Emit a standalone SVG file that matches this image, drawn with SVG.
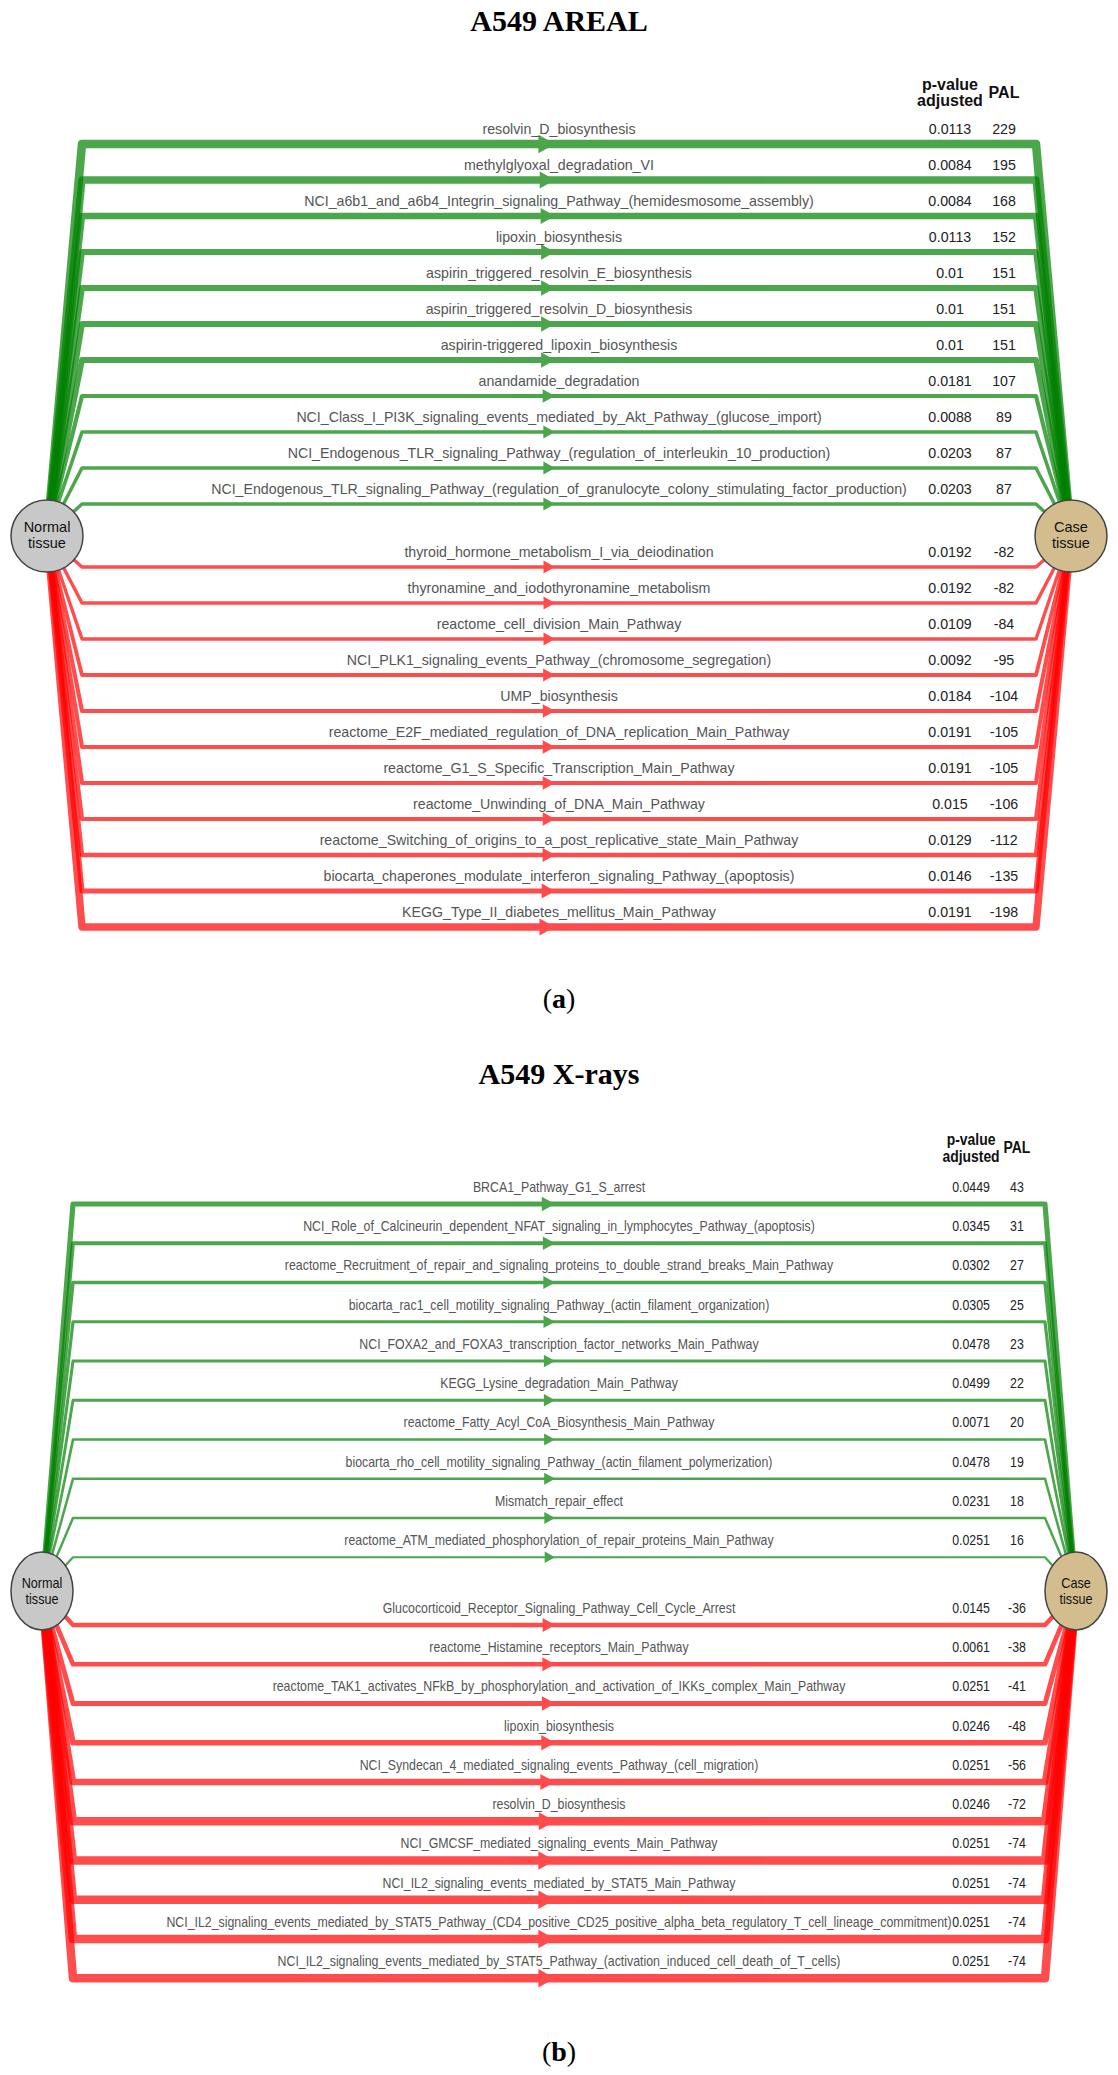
<svg xmlns="http://www.w3.org/2000/svg" width="1118" height="2075" viewBox="0 0 1118 2075">
<style>
.title{font-family:"Liberation Serif",serif;font-weight:bold;font-size:30px;text-anchor:middle;fill:#000}
.cap{font-family:"Liberation Serif",serif;font-size:28px;text-anchor:middle;fill:#000}
.lab{font-family:"Liberation Sans",Arial,sans-serif;font-size:14.2px;text-anchor:middle;fill:#555}
.val{font-family:"Liberation Sans",Arial,sans-serif;font-size:14.2px;text-anchor:middle;fill:#222}
.hdr{font-family:"Liberation Sans",Arial,sans-serif;font-size:16px;font-weight:bold;text-anchor:middle;fill:#111}
.ntx{font-family:"Liberation Sans",Arial,sans-serif;font-size:14.5px;text-anchor:middle;fill:#111}
.c{opacity:0.7}
.up path{stroke:#008000;fill:none;stroke-linejoin:round}
.up polygon{fill:#008000}
.dn path{stroke:#ff0000;fill:none;stroke-linejoin:round}
.dn polygon{fill:#ff0000}
.nrm{fill:#c8c8c8;stroke:#444;stroke-width:1.5}
.cse{fill:#d3bc8d;stroke:#444;stroke-width:1.5}
</style>

<text class="title" x="559" y="31">A549 AREAL</text>
<text class="title" x="559" y="1084">A549 X-rays</text>
<text class="cap" x="559" y="1008">(<tspan font-weight="bold">a</tspan>)</text>
<text class="cap" x="559" y="2061">(<tspan font-weight="bold">b</tspan>)</text>

<!-- Panel a connectors -->
<g id="connectors-a">
<g class="c up"><path d="M47 536L82 144H1036L1071 536" stroke-width="8.5"/><polygon points="538.4,134.8 555,144 538.4,153.2"/></g>
<g class="c up"><path d="M47 536L82 180H1036L1071 536" stroke-width="7.3"/><polygon points="539.7,171.5 555,180 539.7,188.5"/></g>
<g class="c up"><path d="M47 536L82 216H1036L1071 536" stroke-width="6.4"/><polygon points="540.6,208 555,216 540.6,224"/></g>
<g class="c up"><path d="M47 536L82 252H1036L1071 536" stroke-width="5.8"/><polygon points="541.1,244.3 555,252 541.1,259.7"/></g>
<g class="c up"><path d="M47 536L82 288H1036L1071 536" stroke-width="5.8"/><polygon points="541.1,280.3 555,288 541.1,295.7"/></g>
<g class="c up"><path d="M47 536L82 324H1036L1071 536" stroke-width="5.8"/><polygon points="541.1,316.3 555,324 541.1,331.7"/></g>
<g class="c up"><path d="M47 536L82 360H1036L1071 536" stroke-width="5.8"/><polygon points="541.1,352.3 555,360 541.1,367.7"/></g>
<g class="c up"><path d="M47 536L82 396H1036L1071 536" stroke-width="4.2"/><polygon points="542.7,389.2 555,396 542.7,402.8"/></g>
<g class="c up"><path d="M47 536L82 432H1036L1071 536" stroke-width="3.6"/><polygon points="543.3,425.5 555,432 543.3,438.5"/></g>
<g class="c up"><path d="M47 536L82 468H1036L1071 536" stroke-width="3.5"/><polygon points="543.4,461.5 555,468 543.4,474.5"/></g>
<g class="c up"><path d="M47 536L82 504H1036L1071 536" stroke-width="3.5"/><polygon points="543.4,497.5 555,504 543.4,510.5"/></g>

<g class="c dn"><path d="M47 536L82 567H1036L1071 536" stroke-width="3.4"/><polygon points="543.5,560.6 555,567 543.5,573.4"/></g>
<g class="c dn"><path d="M47 536L82 603H1036L1071 536" stroke-width="3.4"/><polygon points="543.5,596.6 555,603 543.5,609.4"/></g>
<g class="c dn"><path d="M47 536L82 639H1036L1071 536" stroke-width="3.4"/><polygon points="543.5,632.6 555,639 543.5,645.4"/></g>
<g class="c dn"><path d="M47 536L82 675H1036L1071 536" stroke-width="3.8"/><polygon points="543.1,668.4 555,675 543.1,681.6"/></g>
<g class="c dn"><path d="M47 536L82 711H1036L1071 536" stroke-width="4.1"/><polygon points="542.8,704.2 555,711 542.8,717.8"/></g>
<g class="c dn"><path d="M47 536L82 747H1036L1071 536" stroke-width="4.2"/><polygon points="542.7,740.2 555,747 542.7,753.8"/></g>
<g class="c dn"><path d="M47 536L82 783H1036L1071 536" stroke-width="4.2"/><polygon points="542.7,776.2 555,783 542.7,789.8"/></g>
<g class="c dn"><path d="M47 536L82 819H1036L1071 536" stroke-width="4.2"/><polygon points="542.7,812.2 555,819 542.7,825.8"/></g>
<g class="c dn"><path d="M47 536L82 855H1036L1071 536" stroke-width="4.4"/><polygon points="542.6,848.1 555,855 542.6,861.9"/></g>
<g class="c dn"><path d="M47 536L82 891H1036L1071 536" stroke-width="5.2"/><polygon points="541.7,883.6 555,891 541.7,898.4"/></g>
<g class="c dn"><path d="M47 536L82 927H1036L1071 536" stroke-width="7.4"/><polygon points="539.5,918.4 555,927 539.5,935.6"/></g>
</g>

<!-- Panel b connectors -->
<g id="connectors-b">
<g class="c up"><path d="M42 1591L73 1204H1045L1076 1591" stroke-width="5.15"/><polygon points="541.8,1196.7 555,1204 541.8,1211.3"/></g>
<g class="c up"><path d="M42 1591L73 1243.25H1045L1076 1591" stroke-width="3.85"/><polygon points="542.9,1236.5 555,1243.25 542.9,1250"/></g>
<g class="c up"><path d="M42 1591L73 1282.5H1045L1076 1591" stroke-width="3.4"/><polygon points="543.3,1276 555,1282.5 543.3,1289"/></g>
<g class="c up"><path d="M42 1591L73 1321.75H1045L1076 1591" stroke-width="3.2"/><polygon points="543.5,1315.4 555,1321.75 543.5,1328.1"/></g>
<g class="c up"><path d="M42 1591L73 1361H1045L1076 1591" stroke-width="3.0"/><polygon points="543.9,1354.8 555,1361 543.9,1367.2"/></g>
<g class="c up"><path d="M42 1591L73 1400.25H1045L1076 1591" stroke-width="2.9"/><polygon points="543.9,1394.1 555,1400.25 543.9,1406.4"/></g>
<g class="c up"><path d="M42 1591L73 1439.5H1045L1076 1591" stroke-width="2.7"/><polygon points="544.1,1433.5 555,1439.5 544.1,1445.5"/></g>
<g class="c up"><path d="M42 1591L73 1478.75H1045L1076 1591" stroke-width="2.55"/><polygon points="544.2,1472.8 555,1478.75 544.2,1484.7"/></g>
<g class="c up"><path d="M42 1591L73 1518H1045L1076 1591" stroke-width="2.45"/><polygon points="544.3,1512.1 555,1518 544.3,1523.9"/></g>
<g class="c up"><path d="M42 1591L73 1557.25H1045L1076 1591" stroke-width="2.2"/><polygon points="544.7,1551.5 555,1557.25 544.7,1563"/></g>

<g class="c dn"><path d="M42 1591L73 1625H1045L1076 1591" stroke-width="4.4"/><polygon points="542.6,1618.1 555,1625 542.6,1631.9"/></g>
<g class="c dn"><path d="M42 1591L73 1664.25H1045L1076 1591" stroke-width="4.6"/><polygon points="542.4,1657.3 555,1664.25 542.4,1671.2"/></g>
<g class="c dn"><path d="M42 1591L73 1703.5H1045L1076 1591" stroke-width="4.9"/><polygon points="542,1696.3 555,1703.5 542,1710.7"/></g>
<g class="c dn"><path d="M42 1591L73 1742.75H1045L1076 1591" stroke-width="5.7"/><polygon points="541.3,1735.1 555,1742.75 541.3,1750.4"/></g>
<g class="c dn"><path d="M42 1591L73 1782H1045L1076 1591" stroke-width="6.55"/><polygon points="540.4,1773.9 555,1782 540.4,1790.1"/></g>
<g class="c dn"><path d="M42 1591L73 1821.25H1045L1076 1591" stroke-width="8.3"/><polygon points="538.8,1812.2 555,1821.25 538.8,1830.3"/></g>
<g class="c dn"><path d="M42 1591L73 1860.5H1045L1076 1591" stroke-width="8.5"/><polygon points="538.4,1851.3 555,1860.5 538.4,1869.7"/></g>
<g class="c dn"><path d="M42 1591L73 1899.75H1045L1076 1591" stroke-width="8.5"/><polygon points="538.4,1890.5 555,1899.75 538.4,1909"/></g>
<g class="c dn"><path d="M42 1591L73 1939H1045L1076 1591" stroke-width="8.5"/><polygon points="538.4,1929.8 555,1939 538.4,1948.2"/></g>
<g class="c dn"><path d="M42 1591L73 1978.25H1045L1076 1591" stroke-width="8.5"/><polygon points="538.4,1969 555,1978.25 538.4,1987.5"/></g>
</g>

<!-- Panel a nodes -->
<g id="normal-a"><circle class="nrm" cx="47" cy="536" r="36"/><text class="ntx" x="47" y="532">Normal</text><text class="ntx" x="47" y="548">tissue</text></g>
<g id="case-a"><circle class="cse" cx="1071" cy="536" r="36"/><text class="ntx" x="1071" y="532">Case</text><text class="ntx" x="1071" y="548">tissue</text></g>

<!-- Panel a labels -->
<g id="labels-a">
<text class="hdr" x="950" y="90">p-value</text>
<text class="hdr" x="950" y="106">adjusted</text>
<text class="hdr" x="1004" y="98">PAL</text>
<text class="lab" x="559" y="134">resolvin_D_biosynthesis</text>
<text class="lab" x="559" y="170">methylglyoxal_degradation_VI</text>
<text class="lab" x="559" y="206">NCI_a6b1_and_a6b4_Integrin_signaling_Pathway_(hemidesmosome_assembly)</text>
<text class="lab" x="559" y="242">lipoxin_biosynthesis</text>
<text class="lab" x="559" y="278">aspirin_triggered_resolvin_E_biosynthesis</text>
<text class="lab" x="559" y="314">aspirin_triggered_resolvin_D_biosynthesis</text>
<text class="lab" x="559" y="350">aspirin-triggered_lipoxin_biosynthesis</text>
<text class="lab" x="559" y="386">anandamide_degradation</text>
<text class="lab" x="559" y="422">NCI_Class_I_PI3K_signaling_events_mediated_by_Akt_Pathway_(glucose_import)</text>
<text class="lab" x="559" y="458">NCI_Endogenous_TLR_signaling_Pathway_(regulation_of_interleukin_10_production)</text>
<text class="lab" x="559" y="494">NCI_Endogenous_TLR_signaling_Pathway_(regulation_of_granulocyte_colony_stimulating_factor_production)</text>
<text class="lab" x="559" y="557">thyroid_hormone_metabolism_I_via_deiodination</text>
<text class="lab" x="559" y="593">thyronamine_and_iodothyronamine_metabolism</text>
<text class="lab" x="559" y="629">reactome_cell_division_Main_Pathway</text>
<text class="lab" x="559" y="665">NCI_PLK1_signaling_events_Pathway_(chromosome_segregation)</text>
<text class="lab" x="559" y="701">UMP_biosynthesis</text>
<text class="lab" x="559" y="737">reactome_E2F_mediated_regulation_of_DNA_replication_Main_Pathway</text>
<text class="lab" x="559" y="773">reactome_G1_S_Specific_Transcription_Main_Pathway</text>
<text class="lab" x="559" y="809">reactome_Unwinding_of_DNA_Main_Pathway</text>
<text class="lab" x="559" y="845">reactome_Switching_of_origins_to_a_post_replicative_state_Main_Pathway</text>
<text class="lab" x="559" y="881">biocarta_chaperones_modulate_interferon_signaling_Pathway_(apoptosis)</text>
<text class="lab" x="559" y="917">KEGG_Type_II_diabetes_mellitus_Main_Pathway</text>

<text class="val" x="950" y="134">0.0113</text><text class="val" x="1004" y="134">229</text>
<text class="val" x="950" y="170">0.0084</text><text class="val" x="1004" y="170">195</text>
<text class="val" x="950" y="206">0.0084</text><text class="val" x="1004" y="206">168</text>
<text class="val" x="950" y="242">0.0113</text><text class="val" x="1004" y="242">152</text>
<text class="val" x="950" y="278">0.01</text><text class="val" x="1004" y="278">151</text>
<text class="val" x="950" y="314">0.01</text><text class="val" x="1004" y="314">151</text>
<text class="val" x="950" y="350">0.01</text><text class="val" x="1004" y="350">151</text>
<text class="val" x="950" y="386">0.0181</text><text class="val" x="1004" y="386">107</text>
<text class="val" x="950" y="422">0.0088</text><text class="val" x="1004" y="422">89</text>
<text class="val" x="950" y="458">0.0203</text><text class="val" x="1004" y="458">87</text>
<text class="val" x="950" y="494">0.0203</text><text class="val" x="1004" y="494">87</text>
<text class="val" x="950" y="557">0.0192</text><text class="val" x="1004" y="557">-82</text>
<text class="val" x="950" y="593">0.0192</text><text class="val" x="1004" y="593">-82</text>
<text class="val" x="950" y="629">0.0109</text><text class="val" x="1004" y="629">-84</text>
<text class="val" x="950" y="665">0.0092</text><text class="val" x="1004" y="665">-95</text>
<text class="val" x="950" y="701">0.0184</text><text class="val" x="1004" y="701">-104</text>
<text class="val" x="950" y="737">0.0191</text><text class="val" x="1004" y="737">-105</text>
<text class="val" x="950" y="773">0.0191</text><text class="val" x="1004" y="773">-105</text>
<text class="val" x="950" y="809">0.015</text><text class="val" x="1004" y="809">-106</text>
<text class="val" x="950" y="845">0.0129</text><text class="val" x="1004" y="845">-112</text>
<text class="val" x="950" y="881">0.0146</text><text class="val" x="1004" y="881">-135</text>
<text class="val" x="950" y="917">0.0191</text><text class="val" x="1004" y="917">-198</text>
</g>

<!-- Panel b nodes -->
<g id="normal-b"><ellipse class="nrm" cx="42" cy="1591" rx="31" ry="39"/><text class="ntx" transform="matrix(0.87 0 0 1 42 0)" x="0" y="1588">Normal</text><text class="ntx" transform="matrix(0.87 0 0 1 42 0)" x="0" y="1604">tissue</text></g>
<g id="case-b"><ellipse class="cse" cx="1076" cy="1591" rx="31" ry="39"/><text class="ntx" transform="matrix(0.87 0 0 1 1076 0)" x="0" y="1588">Case</text><text class="ntx" transform="matrix(0.87 0 0 1 1076 0)" x="0" y="1604">tissue</text></g>

<!-- Panel b labels (horizontally condensed) -->
<g id="labels-b" transform="matrix(0.87 0 0 1 72.67 0)">
<text class="hdr" x="1032.6" y="1145">p-value</text>
<text class="hdr" x="1032.6" y="1162">adjusted</text>
<text class="hdr" x="1085.4" y="1153">PAL</text>
<text class="lab" x="559" y="1192">BRCA1_Pathway_G1_S_arrest</text>
<text class="lab" x="559" y="1231.25">NCI_Role_of_Calcineurin_dependent_NFAT_signaling_in_lymphocytes_Pathway_(apoptosis)</text>
<text class="lab" x="559" y="1270.5">reactome_Recruitment_of_repair_and_signaling_proteins_to_double_strand_breaks_Main_Pathway</text>
<text class="lab" x="559" y="1309.75">biocarta_rac1_cell_motility_signaling_Pathway_(actin_filament_organization)</text>
<text class="lab" x="559" y="1349">NCI_FOXA2_and_FOXA3_transcription_factor_networks_Main_Pathway</text>
<text class="lab" x="559" y="1388.25">KEGG_Lysine_degradation_Main_Pathway</text>
<text class="lab" x="559" y="1427.5">reactome_Fatty_Acyl_CoA_Biosynthesis_Main_Pathway</text>
<text class="lab" x="559" y="1466.75">biocarta_rho_cell_motility_signaling_Pathway_(actin_filament_polymerization)</text>
<text class="lab" x="559" y="1506">Mismatch_repair_effect</text>
<text class="lab" x="559" y="1545.25">reactome_ATM_mediated_phosphorylation_of_repair_proteins_Main_Pathway</text>
<text class="lab" x="559" y="1613">Glucocorticoid_Receptor_Signaling_Pathway_Cell_Cycle_Arrest</text>
<text class="lab" x="559" y="1652.25">reactome_Histamine_receptors_Main_Pathway</text>
<text class="lab" x="559" y="1691.5">reactome_TAK1_activates_NFkB_by_phosphorylation_and_activation_of_IKKs_complex_Main_Pathway</text>
<text class="lab" x="559" y="1730.75">lipoxin_biosynthesis</text>
<text class="lab" x="559" y="1770">NCI_Syndecan_4_mediated_signaling_events_Pathway_(cell_migration)</text>
<text class="lab" x="559" y="1809.25">resolvin_D_biosynthesis</text>
<text class="lab" x="559" y="1848.5">NCI_GMCSF_mediated_signaling_events_Main_Pathway</text>
<text class="lab" x="559" y="1887.75">NCI_IL2_signaling_events_mediated_by_STAT5_Main_Pathway</text>
<text class="lab" x="559" y="1927">NCI_IL2_signaling_events_mediated_by_STAT5_Pathway_(CD4_positive_CD25_positive_alpha_beta_regulatory_T_cell_lineage_commitment)</text>
<text class="lab" x="559" y="1966.25">NCI_IL2_signaling_events_mediated_by_STAT5_Pathway_(activation_induced_cell_death_of_T_cells)</text>

<text class="val" x="1032.6" y="1192">0.0449</text><text class="val" x="1085.4" y="1192">43</text>
<text class="val" x="1032.6" y="1231.25">0.0345</text><text class="val" x="1085.4" y="1231.25">31</text>
<text class="val" x="1032.6" y="1270.5">0.0302</text><text class="val" x="1085.4" y="1270.5">27</text>
<text class="val" x="1032.6" y="1309.75">0.0305</text><text class="val" x="1085.4" y="1309.75">25</text>
<text class="val" x="1032.6" y="1349">0.0478</text><text class="val" x="1085.4" y="1349">23</text>
<text class="val" x="1032.6" y="1388.25">0.0499</text><text class="val" x="1085.4" y="1388.25">22</text>
<text class="val" x="1032.6" y="1427.5">0.0071</text><text class="val" x="1085.4" y="1427.5">20</text>
<text class="val" x="1032.6" y="1466.75">0.0478</text><text class="val" x="1085.4" y="1466.75">19</text>
<text class="val" x="1032.6" y="1506">0.0231</text><text class="val" x="1085.4" y="1506">18</text>
<text class="val" x="1032.6" y="1545.25">0.0251</text><text class="val" x="1085.4" y="1545.25">16</text>
<text class="val" x="1032.6" y="1613">0.0145</text><text class="val" x="1085.4" y="1613">-36</text>
<text class="val" x="1032.6" y="1652.25">0.0061</text><text class="val" x="1085.4" y="1652.25">-38</text>
<text class="val" x="1032.6" y="1691.5">0.0251</text><text class="val" x="1085.4" y="1691.5">-41</text>
<text class="val" x="1032.6" y="1730.75">0.0246</text><text class="val" x="1085.4" y="1730.75">-48</text>
<text class="val" x="1032.6" y="1770">0.0251</text><text class="val" x="1085.4" y="1770">-56</text>
<text class="val" x="1032.6" y="1809.25">0.0246</text><text class="val" x="1085.4" y="1809.25">-72</text>
<text class="val" x="1032.6" y="1848.5">0.0251</text><text class="val" x="1085.4" y="1848.5">-74</text>
<text class="val" x="1032.6" y="1887.75">0.0251</text><text class="val" x="1085.4" y="1887.75">-74</text>
<text class="val" x="1032.6" y="1927">0.0251</text><text class="val" x="1085.4" y="1927">-74</text>
<text class="val" x="1032.6" y="1966.25">0.0251</text><text class="val" x="1085.4" y="1966.25">-74</text>
</g>
</svg>
